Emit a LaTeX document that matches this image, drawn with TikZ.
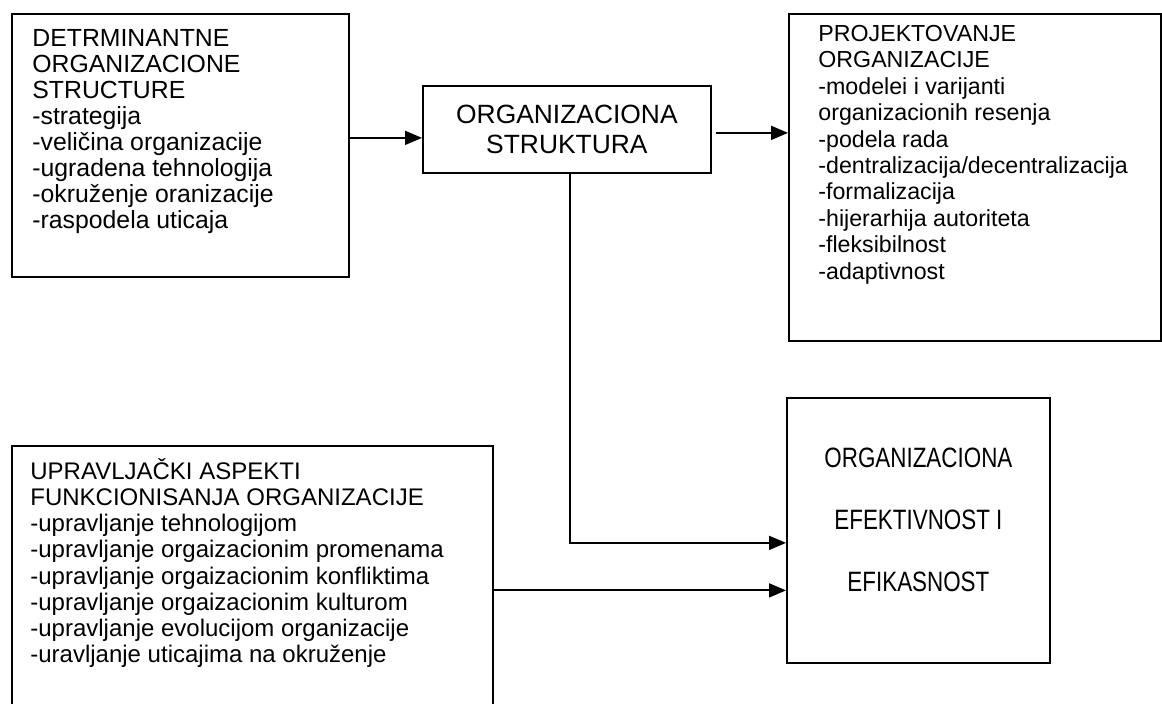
\documentclass[tikz,border=0pt]{standalone}
\usepackage{fontspec}
\setmainfont{Liberation Sans}
\newfontfamily\etroit[FakeStretch=0.8]{Liberation Sans}
\usetikzlibrary{arrows.meta}

\begin{document}
\begin{tikzpicture}[x=1pt,y=1pt]
\tikzset{boite/.style={draw, line width=0.9pt, inner sep=0pt, anchor=north west},
  texte/.style={inner sep=0pt, anchor=north west, align=left, font=\fontsize{12.4}{13}\selectfont},
  fleche/.style={line width=0.9pt, -{Triangle[length=8.5pt,width=7pt]}}}
\clip (0,0) rectangle (581,-352);
\node[boite, minimum width=168.5pt, minimum height=131.5pt] (det) at (5.5,-6.5) {};
\node[texte] (detT) at (16,-14.5) {DETRMINANTNE\\ORGANIZACIONE\\STRUCTURE\\-strategija\\-veli\v{c}ina organizacije\\-ugradena tehnologija\\-okru\v{z}enje oranizacije\\-raspodela uticaja};
\node[boite, minimum width=144pt, minimum height=43.5pt, align=center, font=\fontsize{13.2}{15}\selectfont] (org) at (211,-42.5) {ORGANIZACIONA\\STRUKTURA};
\node[boite, minimum width=186pt, minimum height=163.5pt] (proj) at (394,-6.5) {};
\node[texte, font=\fontsize{11.6}{13.2}\selectfont] (projT) at (409,-12.5) {PROJEKTOVANJE\\ORGANIZACIJE\\-modelei i varijanti\\organizacionih resenja\\-podela rada\\-dentralizacija/decentralizacija\\-formalizacija\\-hijerarhija autoriteta\\-fleksibilnost\\-adaptivnost};
\node[boite, minimum width=240.5pt, minimum height=135pt] (upr) at (5.5,-222.5) {};
\node[texte, font=\fontsize{12}{13.1}\selectfont] (uprT) at (15,-229) {UPRAVLJA\v{C}KI ASPEKTI\\FUNKCIONISANJA ORGANIZACIJE\\-upravljanje tehnologijom\\-upravljanje orgaizacionim promenama\\-upravljanje orgaizacionim konfliktima\\-upravljanje orgaizacionim kulturom\\-upravljanje evolucijom organizacije\\-uravljanje uticajima na okru\v{z}enje};
\node[boite, minimum width=131.5pt, minimum height=132.5pt] (eff) at (393,-198.5) {};
\node[align=center, inner sep=0pt, font=\etroit\fontsize{14}{31}\selectfont] (effT) at ([yshift=5.5pt]eff.center) {ORGANIZACIONA\\EFEKTIVNOST I\\EFIKASNOST};
\coordinate (effA) at ([yshift=-6.25pt]eff.west);
\coordinate (effB) at ([yshift=-30pt]eff.west);
\draw[fleche] ([yshift=3.75pt]det.east) -- ([yshift=3.75pt]det.east -| org.west);
\draw[fleche, shorten <=2pt] ([yshift=-1.75pt]org.east) -- ([yshift=-1.75pt]org.east -| proj.west);
\draw[fleche] ([xshift=1.5pt]org.south) |- (effA);
\draw[fleche] (upr.east |- effB) -- (effB);
\end{tikzpicture}
\end{document}
